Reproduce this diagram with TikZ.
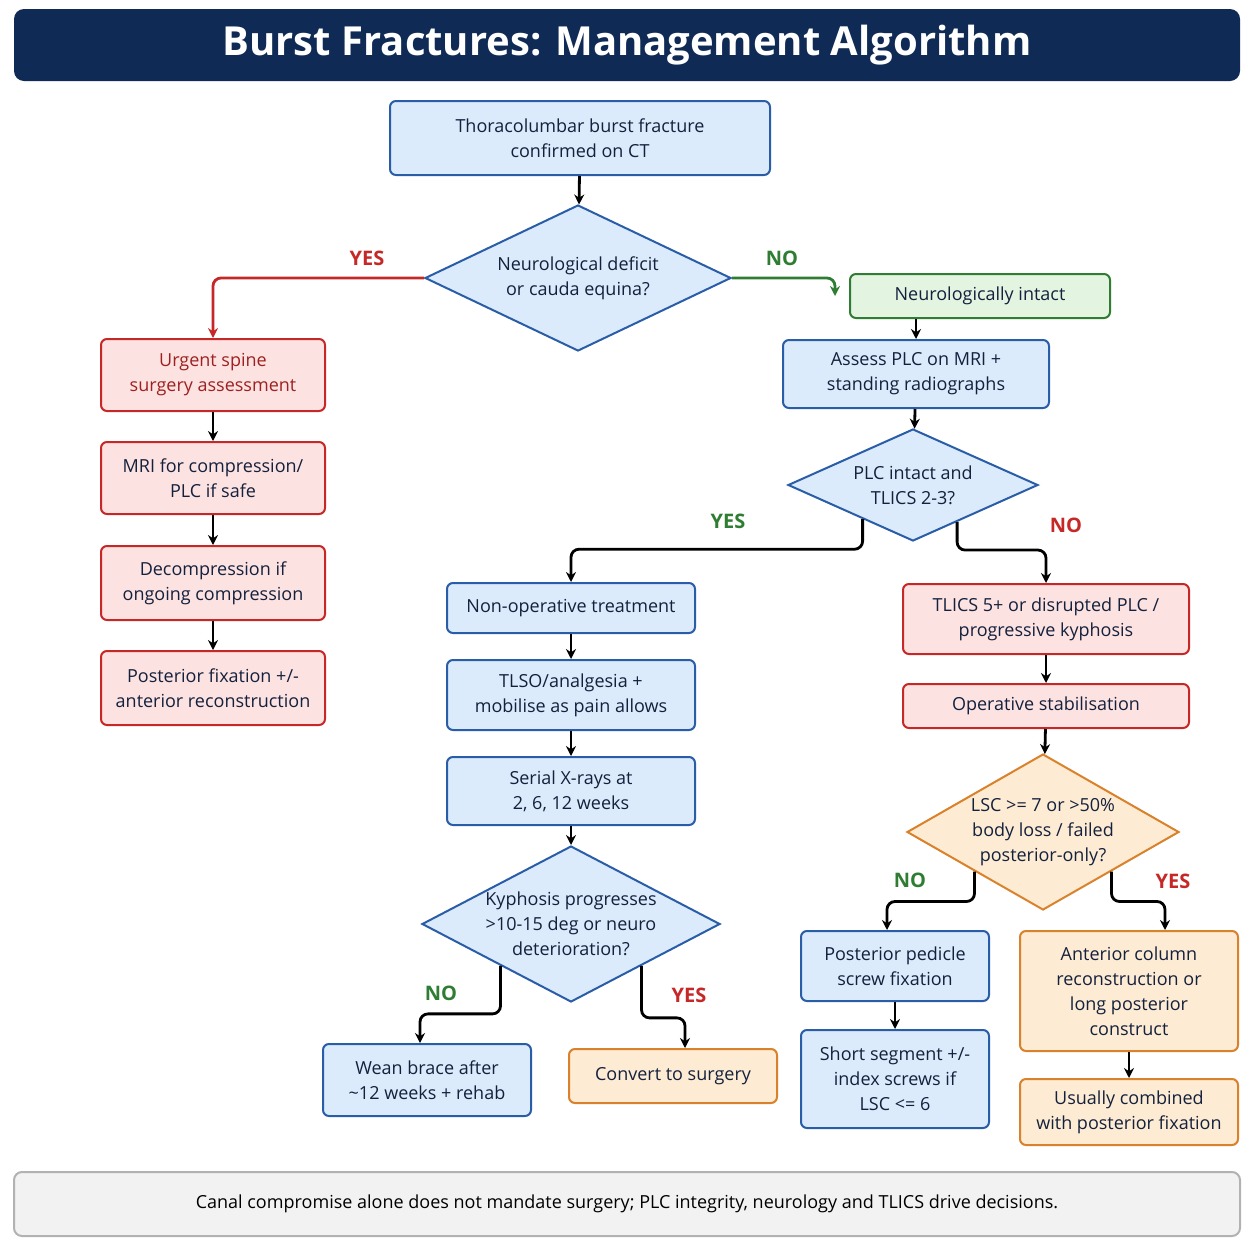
\documentclass[tikz,border=0pt]{standalone}
\usepackage{fontspec}
\setmainfont{Open Sans}
\usetikzlibrary{shapes.geometric,arrows.meta,positioning,calc}
\definecolor{navy}{HTML}{0F2A55}
\definecolor{bfill}{HTML}{DCEBFB}
\definecolor{bline}{HTML}{2A5DA8}
\definecolor{rfill}{HTML}{FDE2E2}
\definecolor{rline}{HTML}{C62828}
\definecolor{gfill}{HTML}{E3F5E1}
\definecolor{gline}{HTML}{2E7D32}
\definecolor{ofill}{HTML}{FDEBD3}
\definecolor{oline}{HTML}{D9822B}
\definecolor{txt}{HTML}{14213D}
\tikzset{
  box/.style={rectangle, rounded corners=3pt, line width=1pt, align=center,
    font=\fontsize{9}{12.5}\selectfont, text=txt, inner sep=2pt},
  bluebox/.style={box, fill=bfill, draw=bline},
  redbox/.style={box, fill=rfill, draw=rline},
  greenbox/.style={box, fill=gfill, draw=gline},
  orangebox/.style={box, fill=ofill, draw=oline},
  decision/.style={diamond, line width=1pt, align=center, inner sep=0pt, aspect=2.1,
    font=\fontsize{9}{12.5}\selectfont, text=txt},
  flow/.style={-{Stealth[length=5pt,width=5pt]}, line width=1.4pt, rounded corners=4pt},
  yeslbl/.style={font=\bfseries\fontsize{10}{12}\selectfont, text=rline},
  nolbl/.style={font=\bfseries\fontsize{10}{12}\selectfont, text=gline}
}
\begin{document}
\begin{tikzpicture}[x=0.5pt, y=-0.5pt]
  \useasboundingbox (0,0) rectangle (1254,1254);
  \fill[white] (0,0) rectangle (1254,1254);
  % title
  \node[fill=navy, rounded corners=5pt, minimum width=613pt, minimum height=36pt,
    text=white, font=\bfseries\fontsize{20}{24}\selectfont] (title) at (627,45)
    {Burst Fractures: Management Algorithm};
  % main column
  \node[bluebox, minimum width=190pt, minimum height=37pt] (start) at (580,138)
    {Thoracolumbar burst fracture\\confirmed on CT};
  \node[decision, fill=bfill, draw=bline, minimum width=153pt, minimum height=73pt] (neuro) at (578,278)
    {Neurological deficit\\or cauda equina?};
  % left branch
  \node[redbox, text=rline!80!black, minimum width=112pt, minimum height=36pt] (urgent) at (213,375)
    {Urgent spine\\surgery assessment};
  \node[redbox, minimum width=112pt, minimum height=36pt] (mri) at (213,478)
    {MRI for compression/\\PLC if safe};
  \node[redbox, minimum width=112pt, minimum height=37pt] (decomp) at (213,583)
    {Decompression if\\ongoing compression};
  \node[redbox, minimum width=112pt, minimum height=37pt] (postfix) at (213,688)
    {Posterior fixation +/-\\anterior reconstruction};
  % right branch
  \node[greenbox, minimum width=130pt, minimum height=22pt] (intact) at (980,296)
    {Neurologically intact};
  \node[bluebox, minimum width=133pt, minimum height=34pt] (assess) at (916,374)
    {Assess PLC on MRI +\\standing radiographs};
  \node[decision, fill=bfill, draw=bline, aspect=2.3, minimum width=125pt, minimum height=56pt] (plc) at (913,485)
    {PLC intact and\\TLICS 2-3?};
  % non-operative
  \node[bluebox, minimum width=124pt, minimum height=25pt] (nonop) at (571,608)
    {Non-operative treatment};
  \node[bluebox, minimum width=124pt, minimum height=35pt] (tlso) at (571,695)
    {TLSO/analgesia +\\mobilise as pain allows};
  \node[bluebox, minimum width=124pt, minimum height=34pt] (serial) at (571,791)
    {Serial X-rays at\\2, 6, 12 weeks};
  \node[decision, fill=bfill, draw=bline, aspect=1.9, minimum width=149pt, minimum height=78pt] (kyph) at (571,924)
    {Kyphosis progresses\\>10-15 deg or neuro\\deterioration?};
  \node[bluebox, minimum width=104pt, minimum height=36pt] (wean) at (427,1080)
    {Wean brace after\\\textasciitilde12 weeks + rehab};
  \node[orangebox, minimum width=104pt, minimum height=27pt] (convert) at (673,1076)
    {Convert to surgery};
  % operative
  \node[redbox, minimum width=143pt, minimum height=35pt] (tlics) at (1046,619)
    {TLICS 5+ or disrupted PLC /\\progressive kyphosis};
  \node[redbox, minimum width=143pt, minimum height=22pt] (operative) at (1046,706)
    {Operative stabilisation};
  \node[decision, fill=ofill, draw=oline, aspect=1.75, minimum width=136pt, minimum height=78pt] (lsc) at (1043,832)
    {LSC >= 7 or >50\%\\body loss / failed\\posterior-only?};
  \node[bluebox, minimum width=94pt, minimum height=35pt] (pedicle) at (895,966)
    {Posterior pedicle\\screw fixation};
  \node[bluebox, minimum width=94pt, minimum height=49pt] (short) at (895,1079)
    {Short segment +/-\\index screws if\\LSC <= 6};
  \node[orangebox, minimum width=109pt, minimum height=60pt] (anterior) at (1129,991)
    {Anterior column\\reconstruction or\\long posterior\\construct};
  \node[orangebox, minimum width=109pt, minimum height=33pt] (combined) at (1129,1112)
    {Usually combined\\with posterior fixation};
  % footer
  \node[fill=gray!10, draw=gray!60, line width=1pt, rounded corners=4pt, minimum width=613pt,
    minimum height=32pt, text=black, font=\fontsize{9}{12}\selectfont] (note) at (627,1204)
    {Canal compromise alone does not mandate surgery; PLC integrity, neurology and TLICS drive decisions.};
  % connectors
  \draw[flow] (start) -- (neuro);
  \draw[flow, draw=rline] (neuro.west) -| (urgent.north);
  \node[yeslbl] (yes1) at (367,258) {YES};
  \draw[flow, draw=gline] (neuro.east) -| ([xshift=-7pt]intact.west);
  \node[nolbl] (no1) at (782,258) {NO};
  \draw[flow] (urgent) -- (mri);
  \draw[flow] (mri) -- (decomp);
  \draw[flow] (decomp) -- (postfix);
  \draw[flow] (intact.south -| assess.north) -- (assess);
  \draw[flow] (assess) -- (plc);
  \coordinate (plcL) at ($(plc.south)!0.4!(plc.west)$);
  \coordinate (plcR) at ($(plc.south)!0.35!(plc.east)$);
  \draw[flow] (plcL) -- ++(0,30) -| (nonop.north);
  \node[nolbl] (yes2) at (728,521) {YES};
  \draw[flow] (plcR) -- ++(0,28) -| (tlics.north);
  \node[yeslbl] (no2) at (1066,525) {NO};
  \draw[flow] (nonop) -- (tlso);
  \draw[flow] (tlso) -- (serial);
  \draw[flow] (serial) -- (kyph);
  \coordinate (kyL) at ($(kyph.south)!0.47!(kyph.west)$);
  \coordinate (kyR) at ($(kyph.south)!0.47!(kyph.east)$);
  \draw[flow] (kyL) -- ++(0,48) -| ([xshift=-3.5pt]wean.north);
  \node[nolbl] (no3) at (441,993) {NO};
  \draw[flow] (kyR) -- ++(0,52) -| ([xshift=6pt]convert.north);
  \node[yeslbl] (yes3) at (689,995) {YES};
  \draw[flow] (tlics) -- (operative);
  \draw[flow] (operative) -- (lsc);
  \coordinate (lsL) at ($(lsc.south)!0.5!(lsc.west)$);
  \coordinate (lsR) at ($(lsc.south)!0.5!(lsc.east)$);
  \draw[flow] (lsL) -- ++(0,30) -| ([xshift=-4pt]pedicle.north);
  \node[nolbl] (no4) at (910,880) {NO};
  \draw[flow] (lsR) -- ++(0,30) -| ([xshift=18pt]anterior.north);
  \node[yeslbl] (yes4) at (1173,881) {YES};
  \draw[flow] (pedicle) -- (short);
  \draw[flow] (anterior) -- (combined);
\end{tikzpicture}
\end{document}
